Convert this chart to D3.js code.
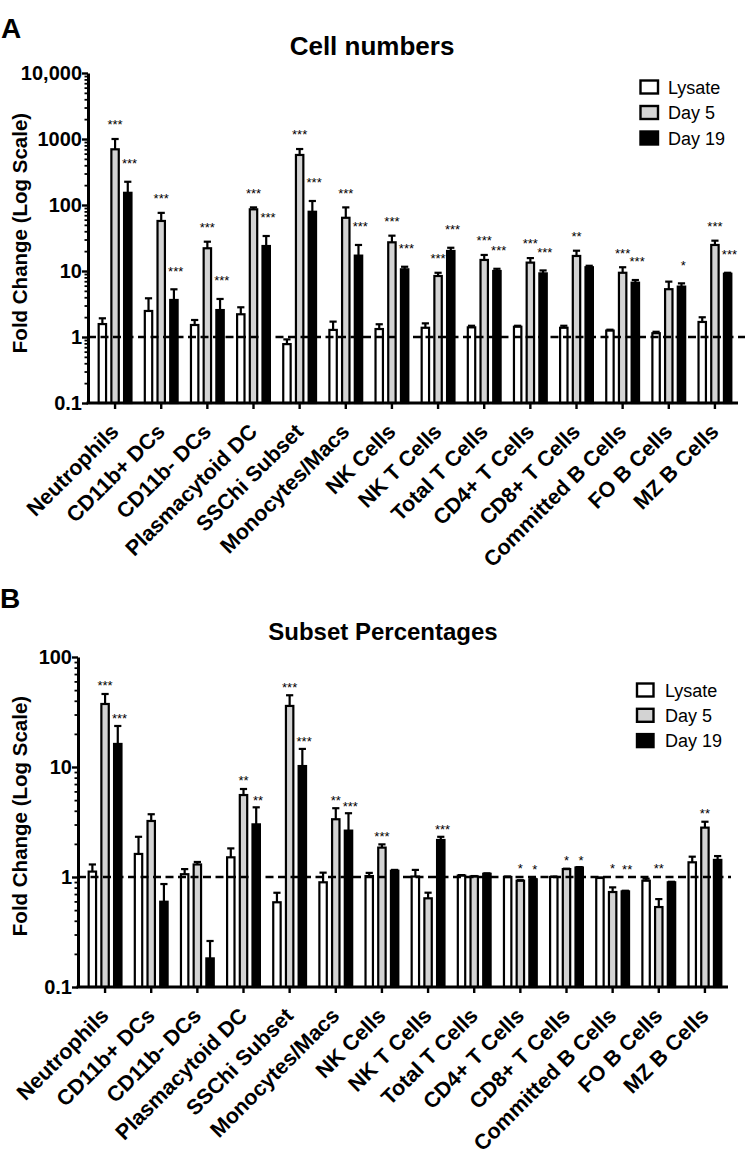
<!DOCTYPE html>
<html><head><meta charset="utf-8">
<script src="https://cdn.jsdelivr.net/npm/d3@7"></script>
<style>
body{margin:0;background:#fff}
svg{display:block}
text{font-family:"Liberation Sans",Arial,Helvetica,sans-serif}
</style>
</head><body>
<svg id="c" width="747" height="1158"></svg>
<script>
// ---------- DATA ----------
const categories = ["Neutrophils","CD11b+ DCs","CD11b- DCs","Plasmacytoid DC","SSChi Subset","Monocytes/Macs","NK Cells","NK T Cells","Total T Cells","CD4+ T Cells","CD8+ T Cells","Committed B Cells","FO B Cells","MZ B Cells"];
const seriesNames = ["Lysate","Day 5","Day 19"];

// Panel A: Cell numbers (fold change)
const aLysate    = [1.57, 2.48, 1.52, 2.21, 0.78, 1.28, 1.32, 1.38, 1.40, 1.43, 1.38, 1.25, 1.14, 1.69];
const aLysateSem = [0.35, 1.38, 0.29, 0.61, 0.14, 0.43, 0.24, 0.23, 0.08, 0.05, 0.10, 0.04, 0.06, 0.30];
const aDay5      = [698, 57.3, 22.1, 86, 573, 64, 27.2, 8.4, 14.7, 13.4, 16.9, 9.4, 5.3, 24.8];
const aDay5Sem   = [302, 18.7, 5.7, 6, 132, 28, 7.1, 1.0, 2.8, 2.3, 3.4, 2.0, 1.6, 4.0];
const aDay19     = [153, 3.64, 2.56, 23.9, 79, 17.1, 10.6, 20.1, 10.0, 9.2, 11.4, 6.65, 5.8, 9.1];
const aDay19Sem  = [72, 1.64, 1.21, 10.0, 36, 7.7, 1.0, 2.4, 0.8, 1.0, 0.6, 0.65, 0.7, 0.3];
const aDay5Sig   = ["***","***","***","***","***","***","***","***","***","***","**","***","","***"];
const aDay19Sig  = ["***","***","***","***","***","***","***","***","***","***","","***","*","***"];
const aTicks     = [0.1, 1, 10, 100, 1000, 10000];
const aTickLabels= ["0.1","1","10","100","1000","10,000"];

// Panel B: Subset percentages (fold change)
const bLysate    = [1.12, 1.62, 1.06, 1.51, 0.589, 0.895, 1.02, 1.01, 1.03, 1.0, 1.0, 0.98, 0.925, 1.36];
const bLysateSem = [0.18, 0.70, 0.12, 0.31, 0.13, 0.20, 0.07, 0.15, 0.01, 0.01, 0.01, 0.01, 0.04, 0.17];
const bDay5      = [37.4, 3.23, 1.30, 5.56, 35.9, 3.35, 1.85, 0.64, 1.01, 0.925, 1.18, 0.73, 0.533, 2.81];
const bDay5Sem   = [8.7, 0.49, 0.07, 0.75, 9.0, 0.87, 0.13, 0.08, 0.01, 0.01, 0.01, 0.075, 0.097, 0.37];
const bDay19     = [16.2, 0.596, 0.182, 3.01, 10.2, 2.64, 1.14, 2.17, 1.07, 0.953, 1.22, 0.74, 0.895, 1.43];
const bDay19Sem  = [7.4, 0.267, 0.08, 1.29, 4.4, 1.16, 0.02, 0.15, 0.01, 0.01, 0.01, 0.01, 0.01, 0.12];
const bDay5Sig   = ["***","","","**","***","**","***","","","*","*","*","**","**"];
const bDay19Sig  = ["***","","","**","***","***","","***","","*","*","**","",""];
const bTicks     = [0.1, 1, 10, 100];
const bTickLabels= ["0.1","1","10","100"];

// ---------- DRAW ----------
const svg = d3.select("#c");
const fills = ["#ffffff","#d3d3d3","#000000"];

function panel(cfg){
  const g = svg.append("g");
  const y = d3.scaleLog().domain(cfg.domain).range([cfg.yBottom, cfg.yTop]);
  const x = d3.scaleBand().domain(categories).range([cfg.x0 + 4, cfg.x1]);
  const cx = d => x(d) + x.bandwidth()/2;
  const off = [-12.7, 0, 12.7];
  const bw = 7.4;

  g.append("text").attr("x", cfg.letterX).attr("y", cfg.letterY)
    .attr("font-size", 28).attr("font-weight", "bold").text(cfg.letter);
  g.append("text").attr("x", cfg.titleX).attr("y", cfg.titleY)
    .attr("text-anchor","middle").attr("font-size", cfg.titleSize).attr("font-weight","bold").text(cfg.title);

  cfg.series.forEach((s, si) => {
    g.append("g").selectAll("rect").data(categories).join("rect")
      .attr("x", d => cx(d) + off[si] - bw/2)
      .attr("y", (d,i) => y(s.vals[i]))
      .attr("width", bw)
      .attr("height", (d,i) => cfg.yBottom - y(s.vals[i]))
      .attr("fill", fills[si]).attr("stroke", "#000").attr("stroke-width", 2.2);
  });
  cfg.series.forEach((s, si) => {
    const eg = g.append("g").attr("stroke","#000").attr("stroke-width",2.2);
    categories.forEach((d,i) => {
      const xc = cx(d) + off[si];
      const yt = y(s.vals[i] + s.sem[i]);
      eg.append("line").attr("x1",xc).attr("x2",xc).attr("y1",y(s.vals[i])).attr("y2",yt);
      eg.append("line").attr("x1",xc-3.6).attr("x2",xc+3.6).attr("y1",yt).attr("y2",yt);
    });
  });
  g.append("line").attr("x1", cfg.x0).attr("x2", cfg.dashEnd)
    .attr("y1", y(1)).attr("y2", y(1))
    .attr("stroke","#000").attr("stroke-width",2.6).attr("stroke-dasharray","8,4.5");

  const minor = [];
  for (let p = Math.log10(cfg.domain[0]); p < Math.log10(cfg.domain[1]); p++){
    for (let k = 2; k <= 9; k++) minor.push(k * Math.pow(10, p));
  }
  g.append("g").attr("transform",`translate(${cfg.x0},0)`)
    .call(d3.axisLeft(y).tickValues(minor).tickSize(3.5).tickSizeOuter(0).tickFormat(""))
    .call(a => a.select(".domain").remove())
    .call(a => a.selectAll("line").attr("stroke-width",1.8));
  const ya = g.append("g").attr("transform",`translate(${cfg.x0},0)`)
    .call(d3.axisLeft(y).tickValues(cfg.ticks).tickSize(6).tickSizeOuter(0).tickPadding(0)
      .tickFormat((d,i) => cfg.tickLabels[i]));
  ya.select(".domain").attr("stroke-width",3);
  ya.selectAll(".tick line").attr("stroke-width",2.4);
  ya.selectAll(".tick text").attr("font-size",20).attr("font-weight","bold").attr("fill","#000")
    .attr("font-family",'"Liberation Sans",Arial,sans-serif');

  g.append("line").attr("x1", cfg.x0 - 1.5).attr("x2", cfg.x1).attr("y1", cfg.yBottom).attr("y2", cfg.yBottom)
    .attr("stroke","#000").attr("stroke-width",3);
  const xa = g.append("g").attr("transform",`translate(0,${cfg.yBottom})`)
    .call(d3.axisBottom(x).tickSize(6).tickSizeOuter(0));
  xa.select(".domain").remove();
  xa.selectAll(".tick line").attr("stroke-width",2.4);
  xa.selectAll(".tick text")
    .attr("x",0).attr("y",0).attr("dy",null)
    .attr("transform", `translate(${cfg.labDx},${cfg.labDy}) rotate(-45)`)
    .attr("text-anchor","end").attr("font-size",21.5).attr("font-weight","bold").attr("fill","#000")
    .attr("font-family",'"Liberation Sans",Arial,sans-serif');

  g.append("text").attr("transform",`translate(${cfg.yTitleX},${cfg.yTitleY}) rotate(-90)`)
    .attr("text-anchor","middle").attr("font-size",20.5).attr("font-weight","bold")
    .text("Fold Change (Log Scale)");

  const fs = 13;
  [[1, cfg.sig5, cfg.starOff5, 0], [2, cfg.sig19, cfg.starOff19, 14.5]].forEach(([si, sig, so, dxs]) => {
    const s = cfg.series[si];
    categories.forEach((d,i) => {
      if (!sig[i]) return;
      const top = Math.min(y(s.vals[i] + s.sem[i]), y(1));
      g.append("text").attr("x", cx(d) + dxs).attr("y", top - so + 0.57*fs)
        .attr("text-anchor","middle").attr("font-size",fs).text(sig[i]);
    });
  });

  const lg = g.append("g");
  seriesNames.forEach((n,i) => {
    const yc = cfg.legY + i*cfg.legStep;
    lg.append("rect").attr("x", cfg.legX).attr("y", yc - 6.5).attr("width", cfg.legW).attr("height", 13)
      .attr("fill", fills[i]).attr("stroke","#000").attr("stroke-width",2.4);
    lg.append("text").attr("x", cfg.legTextX).attr("y", yc + 6.5)
      .attr("font-size", 18).text(n);
  });
}

panel({
  letter:"A", letterX:1, letterY:38,
  title:"Cell numbers", titleX:372, titleY:55, titleSize:26,
  domain:[0.1,10000], yBottom:403, yTop:73, x0:88, x1:738, dashEnd:745,
  ticks:aTicks, tickLabels:aTickLabels,
  series:[{vals:aLysate, sem:aLysateSem},{vals:aDay5, sem:aDay5Sem},{vals:aDay19, sem:aDay19Sem}],
  sig5:aDay5Sig, sig19:aDay19Sig, starOff5:17, starOff19:21,
  labDx:5, labDy:30,
  yTitleX:26.5, yTitleY:233,
  legX:640.5, legW:17.5, legTextX:668, legY:87, legStep:25.5
});
panel({
  letter:"B", letterX:0, letterY:608,
  title:"Subset Percentages", titleX:383, titleY:640, titleSize:24,
  domain:[0.1,100], yBottom:987, yTop:657, x0:78, x1:728, dashEnd:731,
  ticks:bTicks, tickLabels:bTickLabels,
  series:[{vals:bLysate, sem:bLysateSem},{vals:bDay5, sem:bDay5Sem},{vals:bDay19, sem:bDay19Sem}],
  sig5:bDay5Sig, sig19:bDay19Sig, starOff5:11, starOff19:10,
  labDx:5, labDy:30,
  yTitleX:26.5, yTitleY:816,
  legX:637, legW:16.5, legTextX:665, legY:690, legStep:25.3
});
</script>
</body></html>
